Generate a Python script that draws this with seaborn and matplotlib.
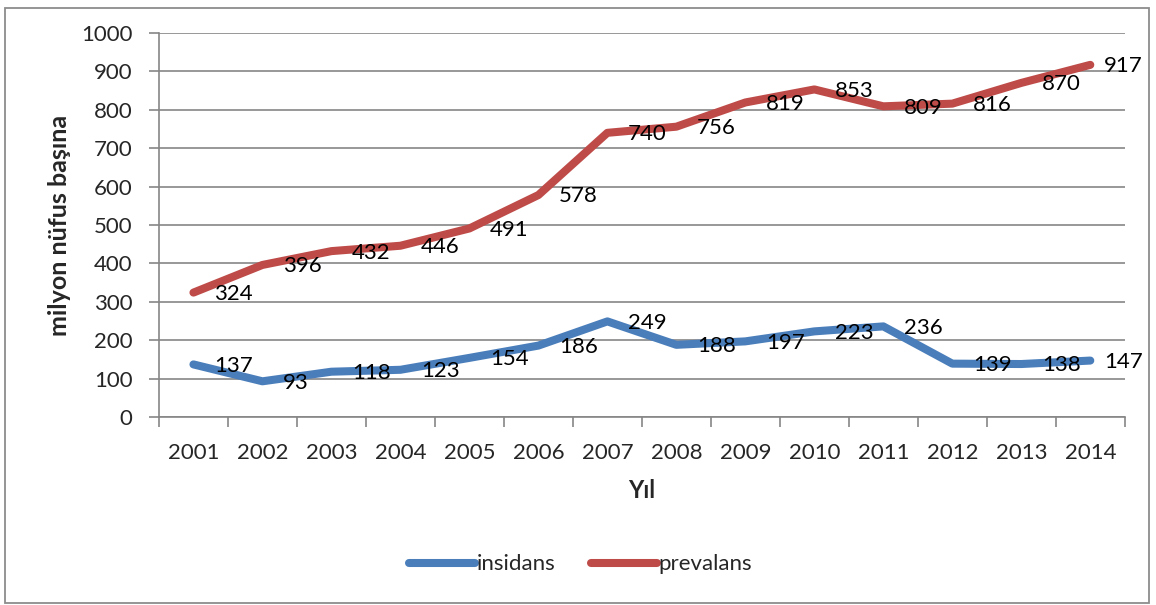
import pandas as pd
import matplotlib.pyplot as plt
import seaborn as sns
from matplotlib.patches import Rectangle
from matplotlib.ticker import FixedLocator, NullFormatter

years = ["2001", "2002", "2003", "2004", "2005", "2006", "2007",
         "2008", "2009", "2010", "2011", "2012", "2013", "2014"]
insidans = [137, 93, 118, 123, 154, 186, 249, 188, 197, 223, 236, 139, 138, 147]
prevalans = [324, 396, 432, 446, 491, 578, 740, 756, 819, 853, 809, 816, 870, 917]
series_names = ["insidans", "prevalans"]
colors = ["#4A7EBB", "#BE4B48"]

data = pd.DataFrame({
    "pos": list(range(len(years))) * 2,
    "value": insidans + prevalans,
    "seri": [series_names[0]] * len(years) + [series_names[1]] * len(years),
})

sns.set_style("white")
plt.rcParams["font.family"] = ["Lato", "DejaVu Sans"]
FS = 16

fig = plt.figure(figsize=(11.56, 6.05), dpi=100)
ax = fig.add_axes([0.1375, 0.3107, 0.8355, 0.6348])

sns.lineplot(data=data, x="pos", y="value", hue="seri", palette=colors,
             linewidth=5.8, ax=ax, legend=True)
for line in ax.get_lines():
    line.set_solid_capstyle("round")
    line.set_solid_joinstyle("round")

# veri etiketleri - jobbra
n = len(years)
for vals in (insidans, prevalans):
    for i, v in enumerate(vals):
        dx = 10 if i == n - 1 else 15
        ax.annotate(str(v), (i, v), xytext=(dx, -1), textcoords="offset points",
                    ha="left", va="center", fontsize=FS, color="black")

grid_c = "#868686"
ax.set_xlim(-0.5, n - 0.5)
ax.set_ylim(0, 1000)
ax.set_yticks(range(0, 1001, 100))
ax.yaxis.grid(True, color=grid_c, linewidth=1.2)
ax.set_axisbelow(True)

# kategoria hatarok -> tick, kozep -> felirat
ax.xaxis.set_major_locator(FixedLocator([i - 0.5 for i in range(n + 1)]))
ax.xaxis.set_major_formatter(NullFormatter())
ax.xaxis.set_minor_locator(FixedLocator(list(range(n))))
ax.set_xticklabels(years, minor=True)
ax.tick_params(axis="x", which="major", length=7, width=1.2, color=grid_c, direction="out", bottom=True)
ax.tick_params(axis="x", which="minor", length=0, pad=19, labelsize=FS)
ax.tick_params(axis="y", length=7, width=1.2, color=grid_c, direction="out", left=True, pad=12, labelsize=FS)

for s in ["top", "right"]:
    ax.spines[s].set_visible(False)
for s in ["left", "bottom"]:
    ax.spines[s].set_color(grid_c)
    ax.spines[s].set_linewidth(1.2)

ax.set_xlabel("Yıl", fontsize=17, fontweight="bold", labelpad=11)
ax.set_ylabel("milyon nüfus başına", fontsize=18, fontweight="bold", labelpad=7)

handles, labels = ax.get_legend_handles_labels()
ax.legend(handles, labels, loc="center", bbox_to_anchor=(0.502, 0.067),
          bbox_transform=fig.transFigure, ncol=2, frameon=False, fontsize=FS,
          handlelength=3.0, handletextpad=0.05, columnspacing=1.6)

fig.patches.append(Rectangle((0.004, 0.004), 0.99, 0.983, transform=fig.transFigure,
                             fill=False, edgecolor="#8C8C8C", linewidth=1.3))

plt.savefig("out.png", dpi=100)
